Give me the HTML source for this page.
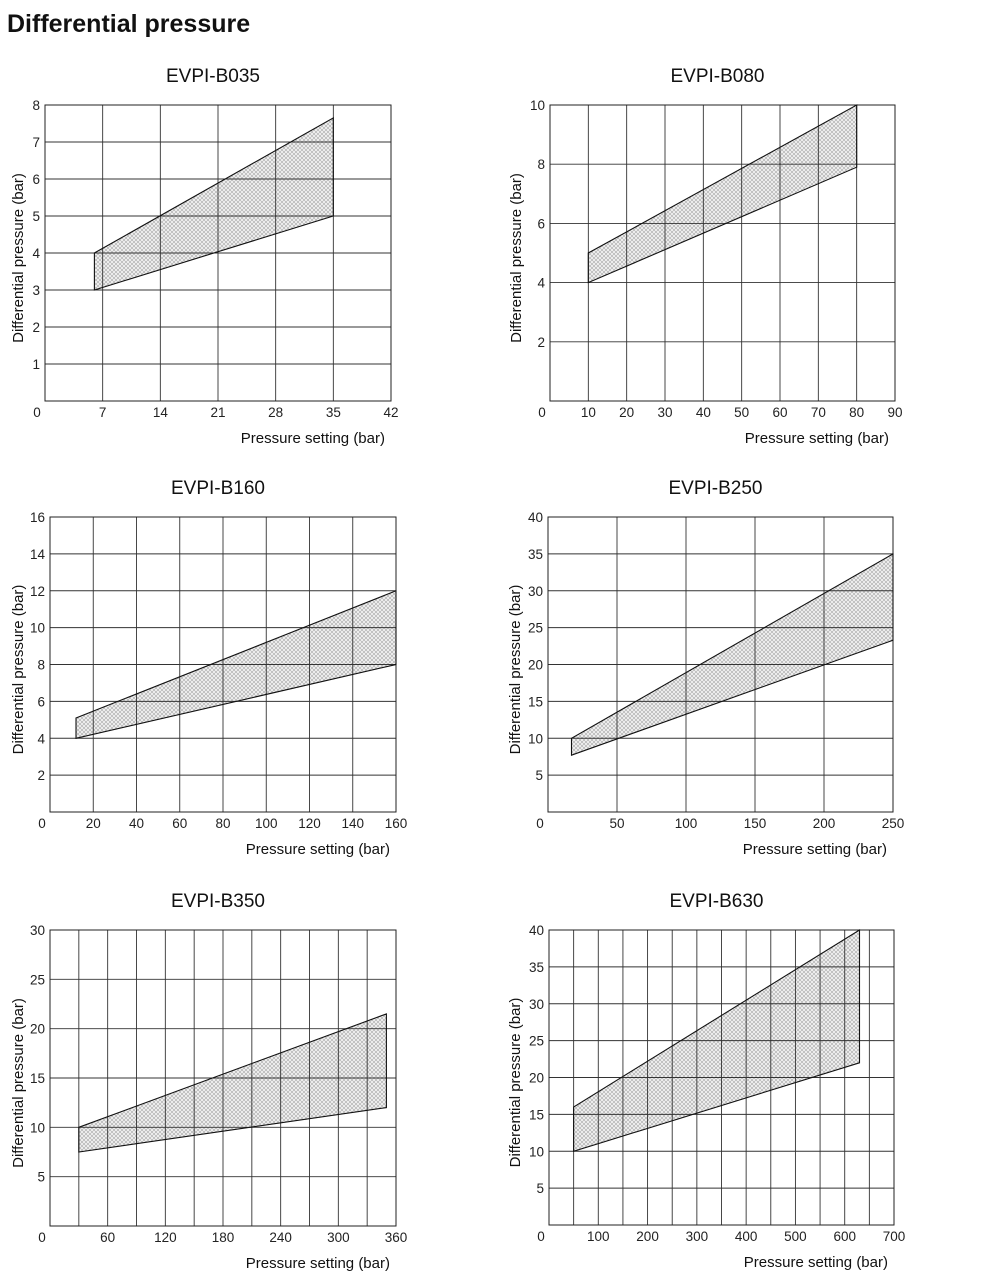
<!DOCTYPE html>
<html><head><meta charset="utf-8"><style>
html,body{margin:0;padding:0;background:#fff;}
svg{display:block;font-family:"Liberation Sans",sans-serif;}
</style></head><body>
<svg id="s" width="1000" height="1285" xmlns="http://www.w3.org/2000/svg">
<defs>
<pattern id="h" width="4" height="4" patternUnits="userSpaceOnUse">
<rect width="4" height="4" fill="#ececec"/>
<path d="M0,0L4,4M4,0L0,4" stroke="#999" stroke-width="0.5"/>
</pattern>
</defs>
<text x="7" y="32" font-size="25" font-weight="bold" fill="#111">Differential pressure</text>
</svg>
<script>
var s=document.getElementById('s');
var charts=[
{t:'EVPI-B035',L:45,R:391,T:105,B:401,xm:42,ym:8,xg:7,xl:7,yg:1,yl:1,p:[[6,3],[6,4],[35,7.65],[35,5]],ax:23},
{t:'EVPI-B080',L:550,R:895,T:105,B:401,xm:90,ym:10,xg:10,xl:10,yg:2,yl:2,p:[[10,4],[10,5],[80,10],[80,7.9]],ax:521},
{t:'EVPI-B160',L:50,R:396,T:517,B:812,xm:160,ym:16,xg:20,xl:20,yg:2,yl:2,p:[[12,4],[12,5.1],[160,12],[160,8]],ax:23},
{t:'EVPI-B250',L:548,R:893,T:517,B:812,xm:250,ym:40,xg:50,xl:50,yg:5,yl:5,p:[[17,7.7],[17,10],[250,35],[250,23.3]],ax:520},
{t:'EVPI-B350',L:50,R:396,T:930,B:1226,xm:360,ym:30,xg:30,xl:60,yg:5,yl:5,p:[[30,7.5],[30,10],[350,21.5],[350,12]],ax:23},
{t:'EVPI-B630',L:549,R:894,T:930,B:1225,xm:700,ym:40,xg:50,xl:100,yg:5,yl:5,p:[[50,10],[50,16],[630,40],[630,22]],ax:520}
];
var h='';
charts.forEach(function(c){
 var X=function(v){return c.L+(c.R-c.L)*v/c.xm}, Y=function(v){return c.B-(c.B-c.T)*v/c.ym};
 var cx=(c.L+c.R)/2-5;
 h+='<text x="'+cx+'" y="'+(c.T-23)+'" font-size="19" text-anchor="middle" fill="#111">'+c.t+'</text>';
 var pts=c.p.map(function(q){return X(q[0]).toFixed(1)+','+Y(q[1]).toFixed(1)}).join(' ');
 h+='<polygon points="'+pts+'" fill="url(#h)" stroke="none"/>';
 for(var v=c.xg;v<c.xm;v+=c.xg){h+='<line x1="'+X(v)+'" x2="'+X(v)+'" y1="'+c.T+'" y2="'+c.B+'" stroke="#333" stroke-width="0.9"/>';}
 for(var v=c.yg;v<c.ym;v+=c.yg){h+='<line y1="'+Y(v)+'" y2="'+Y(v)+'" x1="'+c.L+'" x2="'+c.R+'" stroke="#333" stroke-width="0.9"/>';}
 h+='<rect x="'+c.L+'" y="'+c.T+'" width="'+(c.R-c.L)+'" height="'+(c.B-c.T)+'" fill="none" stroke="#222" stroke-width="1"/>';
 h+='<polygon points="'+pts+'" fill="none" stroke="#111" stroke-width="1.1"/>';
 for(var v=c.yl;v<=c.ym;v+=c.yl){h+='<text x="'+(c.L-5)+'" y="'+(Y(v)+5)+'" font-size="13.5" text-anchor="end" fill="#222">'+v+'</text>';}
 h+='<text x="'+(c.L-8)+'" y="'+(c.B+16)+'" font-size="13.5" text-anchor="middle" fill="#222">0</text>';
 for(var v=c.xl;v<=c.xm;v+=c.xl){h+='<text x="'+X(v)+'" y="'+(c.B+16)+'" font-size="13.5" text-anchor="middle" fill="#222">'+v+'</text>';}
 h+='<text x="'+(c.R-6)+'" y="'+(c.B+42)+'" font-size="15" text-anchor="end" fill="#111">Pressure setting (bar)</text>';
 var yc=(c.T+c.B)/2;
 h+='<text transform="translate('+c.ax+','+(yc+5)+') rotate(-90)" font-size="15" text-anchor="middle" fill="#111">Differential pressure (bar)</text>';
});
s.insertAdjacentHTML('beforeend',h);
</script>
</body></html>
